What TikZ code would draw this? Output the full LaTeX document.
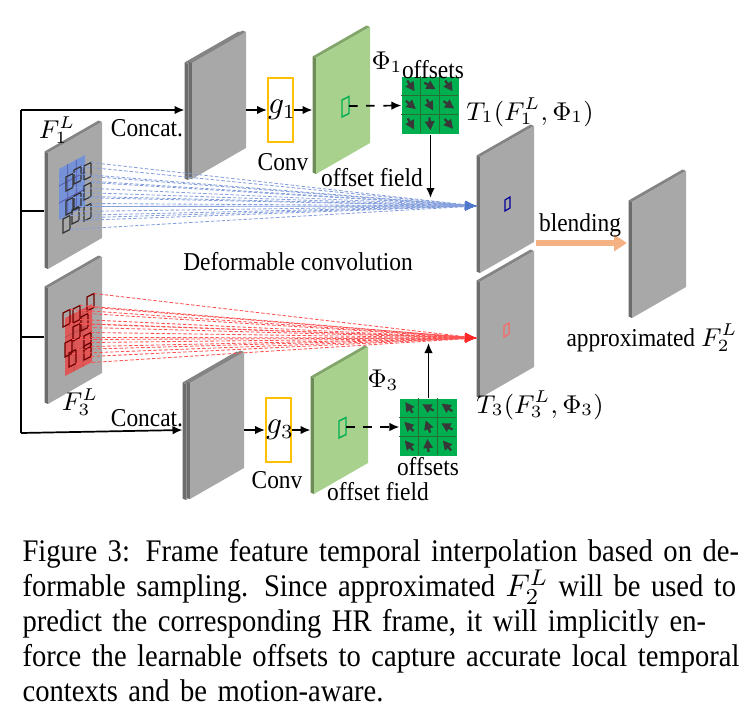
\documentclass[tikz,border=0pt]{standalone}
\usepackage{fontspec}
\setmainfont{Liberation Serif}
\newfontfamily\capfont[FakeStretch = 0.91]{Liberation Serif}
\usetikzlibrary{arrows.meta}

\definecolor{grayfront}{RGB}{168,168,168}
\definecolor{grayside}{RGB}{108,108,108}
\definecolor{graytop}{RGB}{132,132,132}
\definecolor{greenfront}{RGB}{169,209,142}
\definecolor{greenside}{RGB}{110,140,88}
\definecolor{greentop}{RGB}{130,165,105}
\definecolor{convorange}{RGB}{255,192,0}
\definecolor{gridgreen}{RGB}{0,176,80}
\definecolor{gridline}{RGB}{40,110,50}
\definecolor{bluepatch}{RGB}{118,146,214}
\definecolor{redpatch}{RGB}{222,88,88}
\definecolor{bluelinkc}{RGB}{80,120,205}
\definecolor{redlinkc}{RGB}{255,40,40}
\definecolor{blendc}{RGB}{244,177,131}

\def\slabW{54}
\def\slabH{116}
\def\slabS{31}
\def\slabD{3.5}
\def\slabE{1.5}
\def\capW{251.3pt}

%% one feature map: x, y of top left corner, colour prefix, name
\newcommand\featslab[4]{%
    \fill [#3side]
    (#1,#2) -- ++(-\slabD,-\slabE) -- ++(0,\slabH) -- ++(\slabD,\slabE) -- cycle
    ;
    \fill [#3top]
    (#1,#2) -- ++(-\slabD,-\slabE) -- ++(\slabW,-\slabS) -- ++(\slabD,\slabE) -- cycle
    ;
    \fill [#3front]
    (#1,#2) coordinate (#4-tl)
    -- ++(\slabW,-\slabS) coordinate (#4-tr)
    -- ++(0,\slabH) coordinate (#4-br)
    -- ++(-\slabW,\slabS) coordinate (#4-bl)
    -- cycle
    ;
}
%% one full caption line
\newcommand\capline[1]{\makebox[\capW][s]{#1}}

\tikzset{
    lbl/.style = {font = \capfont\fontsize{9}{10.8}\selectfont, inner sep = 0pt},
    link/.style = {line width = 0.6pt, -{Latex[length = 3.5pt, width = 3pt]}},
    plain/.style = {line width = 0.6pt},
    convbox/.style = {draw = convorange, line width = 0.7pt, inner sep = 0pt,
        minimum width = 8.75pt, minimum height = 22.4pt},
    offsetgrid/.style = {fill = gridgreen, inner sep = 0pt, minimum size = 19.95pt},
    cellarrow/.style = {line width = 0.8pt, black!78,
        -{Triangle[length = 3.2pt, width = 3.2pt]}},
    bluelink/.style = {bluelinkc!70, line width = 0.3pt, dash pattern = on 1.2pt off 0.7pt,
        -{Latex[length = 4pt, width = 3pt, bluelinkc]}},
    redlink/.style = {redlinkc!80, line width = 0.3pt, dash pattern = on 1.2pt off 0.7pt,
        -{Latex[length = 4pt, width = 3pt, redlinkc]}},
}

\begin{document}
\begin{tikzpicture}[x = 0.35pt, y = -0.35pt]
            \useasboundingbox (0,0) rectangle (753,722);
            %% feature maps
            \featslab{48}{153}{gray}{fone}
            \featslab{48}{288}{gray}{fthree}
            \featslab{188}{64}{gray}{concatAback}
            \featslab{192}{63}{gray}{concatA}
            \featslab{186}{384}{gray}{concatBback}
            \featslab{190}{383}{gray}{concatB}
            \featslab{316}{58}{green}{fieldA}
            \featslab{314}{378}{green}{fieldB}
            \featslab{480}{157}{gray}{tone}
            \featslab{480}{282}{gray}{tthree}
            \featslab{632}{202}{gray}{approx}
            %% sampled patches
            \fill [bluepatch]
            (59,169) -- ++(26,-14) -- ++(0,51) -- ++(-26,14) -- cycle
            ;
            \fill [redpatch]
            (65,318) -- ++(27,-14) -- ++(0,58) -- ++(-27,14) -- cycle
            ;
            \foreach \f in {1,2} {
                \draw [blue!35!gray, line width = 0.25pt]
                (59,169) ++({26*\f/3},{-14*\f/3}) -- ++(0,51)
                (59,169) ++(0,{51*\f/3}) -- ++(26,-14)
                ;
                \draw [red!40!gray, line width = 0.25pt]
                (65,318) ++({27*\f/3},{-14*\f/3}) -- ++(0,58)
                (65,318) ++(0,{58*\f/3}) -- ++(27,-14)
                ;
            }
            %% deformed sampling positions
            \foreach \px/\py [count = \i] in {66/177, 74/170, 84/166, 84/186, 66/201,
                74/196, 72/210, 84/207, 63/219} {
                \draw [black!80, line width = 0.4pt]
                (\px,\py) -- ++(7,-3.5) coordinate (b\i-ne)
                -- ++(0,14) coordinate (b\i-se)
                -- ++(-7,3.5) -- cycle
                ;
            }
            \foreach \px/\py [count = \i] in {63/313, 73/309, 87/297, 81/317, 73/327,
                84/336, 65/343, 84/346, 69/353} {
                \draw [red!45!black, line width = 0.4pt]
                (\px,\py) -- ++(7,-3.5) coordinate (r\i-ne)
                -- ++(0,14) coordinate (r\i-se)
                -- ++(-7,3.5) -- cycle
                ;
            }
            %% sampled points on the warped maps
            \draw [blue!60!black, line width = 0.4pt]
            (505,200) -- ++(5,-3) -- ++(0,11) -- ++(-5,3) -- cycle
            ;
            \draw [red!60, line width = 0.4pt]
            (504,326) -- ++(5,-3) -- ++(0,11) -- ++(-5,3) -- cycle
            ;
            %% offset points on the offset fields
            \draw [gridgreen, line width = 0.5pt]
            (342,100) -- ++(7,-3.5) -- ++(0,17) -- ++(-7,3.5) -- cycle
            ;
            \draw [gridgreen, line width = 0.5pt]
            (339,421) -- ++(7,-3.5) -- ++(0,17) -- ++(-7,3.5) -- cycle
            ;
            %% named ends
            \draw
            (21,110) coordinate (split-top)
            (21,433) coordinate (split-bot)
            (44,211) coordinate (fone-in)
            (44,337) coordinate (fthree-in)
            (184.5,110) coordinate (concatA-in)
            (246,110) coordinate (concatA-out)
            (182.5,430) coordinate (concatB-in)
            (244,430) coordinate (concatB-out)
            (312.5,110) coordinate (fieldA-in)
            (310.5,430) coordinate (fieldB-in)
            (349,106) coordinate (fieldA-pt)
            (346,427) coordinate (fieldB-pt)
            (430.5,198) coordinate (tone-top)
            (428.5,343) coordinate (tthree-bot)
            (476.5,206) coordinate (tone-in)
            (476.5,338) coordinate (tthree-in)
            (536,243) coordinate (tone-out)
            (627,243) coordinate (approx-in)
            ;
            %% convolutions and offsets
            \node [convbox] (gonebox) at (280.5,110) {};
            \node [convbox] (gthreebox) at (278.5,430) {};
            \node [lbl, font = \fontsize{10.5}{12}\selectfont] (gone) at (282,110) {$g_1$};
            \node [lbl, font = \fontsize{10.5}{12}\selectfont] (gthree) at (280,430) {$g_3$};
            \node [offsetgrid] (gridA) at (430.5,105.5) {};
            \node [offsetgrid] (gridB) at (428.5,427) {};
            \foreach \g in {gridA, gridB} {
                \foreach \i in {1,2} {
                    \draw [gridline, line width = 0.3pt]
                    (\g.north west) ++({19*\i},0) -- ++(0,57)
                    (\g.north west) ++(0,{19*\i}) -- ++(57,0)
                    ;
                }
            }
            \foreach \a [count = \k from 0] in {55,30,55,40,60,35,60,85,50} {
                \pgfmathtruncatemacro\row{\k/3}
                \pgfmathtruncatemacro\col{\k-3*\row}
                \draw [cellarrow]
                (gridA.north west) ++({9.5+19*\col},{9.5+19*\row}) ++(\a+180:6.5) -- ++(\a:13)
                ;
            }
            \foreach \a [count = \k from 0] in {-125,-150,-145,-135,-110,-150,-130,-95,-130} {
                \pgfmathtruncatemacro\row{\k/3}
                \pgfmathtruncatemacro\col{\k-3*\row}
                \draw [cellarrow]
                (gridB.north west) ++({9.5+19*\col},{9.5+19*\row}) ++(\a+180:6.5) -- ++(\a:13)
                ;
            }
            %% connectors
            \draw [plain] (split-top) -- (split-bot);
            \draw [plain] (fone-in) -- (fone-in -| split-top);
            \draw [plain] (fthree-in) -- (fthree-in -| split-top);
            \draw [link] (split-top) -- (concatA-in);
            \draw [link] (split-bot) -- (concatB-in);
            \draw [link] (concatA-out) -- (gonebox.west);
            \draw [link] (gonebox.east) -- (fieldA-in);
            \draw [link] (concatB-out) -- (gthreebox.west);
            \draw [link] (gthreebox.east) -- (fieldB-in);
            \draw [link, dashed] (fieldA-pt) -- (gridA.west);
            \draw [link, dashed] (fieldB-pt) -- (gridB.west);
            \draw [link] (gridA.south) -- (tone-top);
            \draw [link] (gridB.north) -- (tthree-bot);
            \foreach \i in {1,2,...,9} {
                \draw [bluelink] (b\i-ne) -- (tone-in);
                \draw [bluelink] (b\i-se) -- (tone-in);
                \draw [redlink] (r\i-ne) -- (tthree-in);
                \draw [redlink] (r\i-se) -- (tthree-in);
            }
            \draw [blendc, line width = 1.8pt, -{Triangle[length = 4.5pt, width = 5.5pt]}]
            (tone-out) -- (approx-in)
            ;
            %% labels
            \node [lbl] (fonelbl) at (57,130) {$F_1^L$};
            \node [lbl] (fthreelbl) at (80,402) {$F_3^L$};
            \node [lbl] (concatAlbl) at (147,128) {Concat.};
            \node [lbl] (concatBlbl) at (147,418) {Concat.};
            \node [lbl] (convAlbl) at (283,162) {Conv};
            \node [lbl] (convBlbl) at (277,480) {Conv};
            \node [lbl] (phione) at (387,62) {$\Phi_1$};
            \node [lbl] (phithree) at (383,380) {$\Phi_3$};
            \node [lbl] (offsAlbl) at (433,70) {offsets};
            \node [lbl] (offsBlbl) at (428,467) {offsets};
            \node [lbl] (fieldAlbl) at (372,178) {offset field};
            \node [lbl] (fieldBlbl) at (378,492) {offset field};
            \node [lbl] (tonelbl) at (530,112) {$T_1(F_1^L, \Phi_1)$};
            \node [lbl] (tthreelbl) at (540,405) {$T_3(F_3^L, \Phi_3)$};
            \node [lbl] (deflbl) at (298,262) {Deformable convolution};
            \node [lbl] (blendlbl) at (580,225) {blending};
            \node [lbl] (approxlbl) at (652,338) {approximated $F_2^L$};
            %% caption
            \node [anchor = north west, inner sep = 0pt, text width = \capW,
                align = left, font = \capfont\fontsize{11}{12.25}\selectfont] (caption) at (22,539) {%
                \capline{Figure 3: Frame feature temporal interpolation based on de-}\\
                \capline{formable sampling. Since approximated $F_2^L$ will be used to}\\
                \capline{predict the corresponding HR frame, it will implicitly en-}\\
                \capline{force the learnable offsets to capture accurate local temporal}\\
                contexts and be motion-aware.};
\end{tikzpicture}
\end{document}
